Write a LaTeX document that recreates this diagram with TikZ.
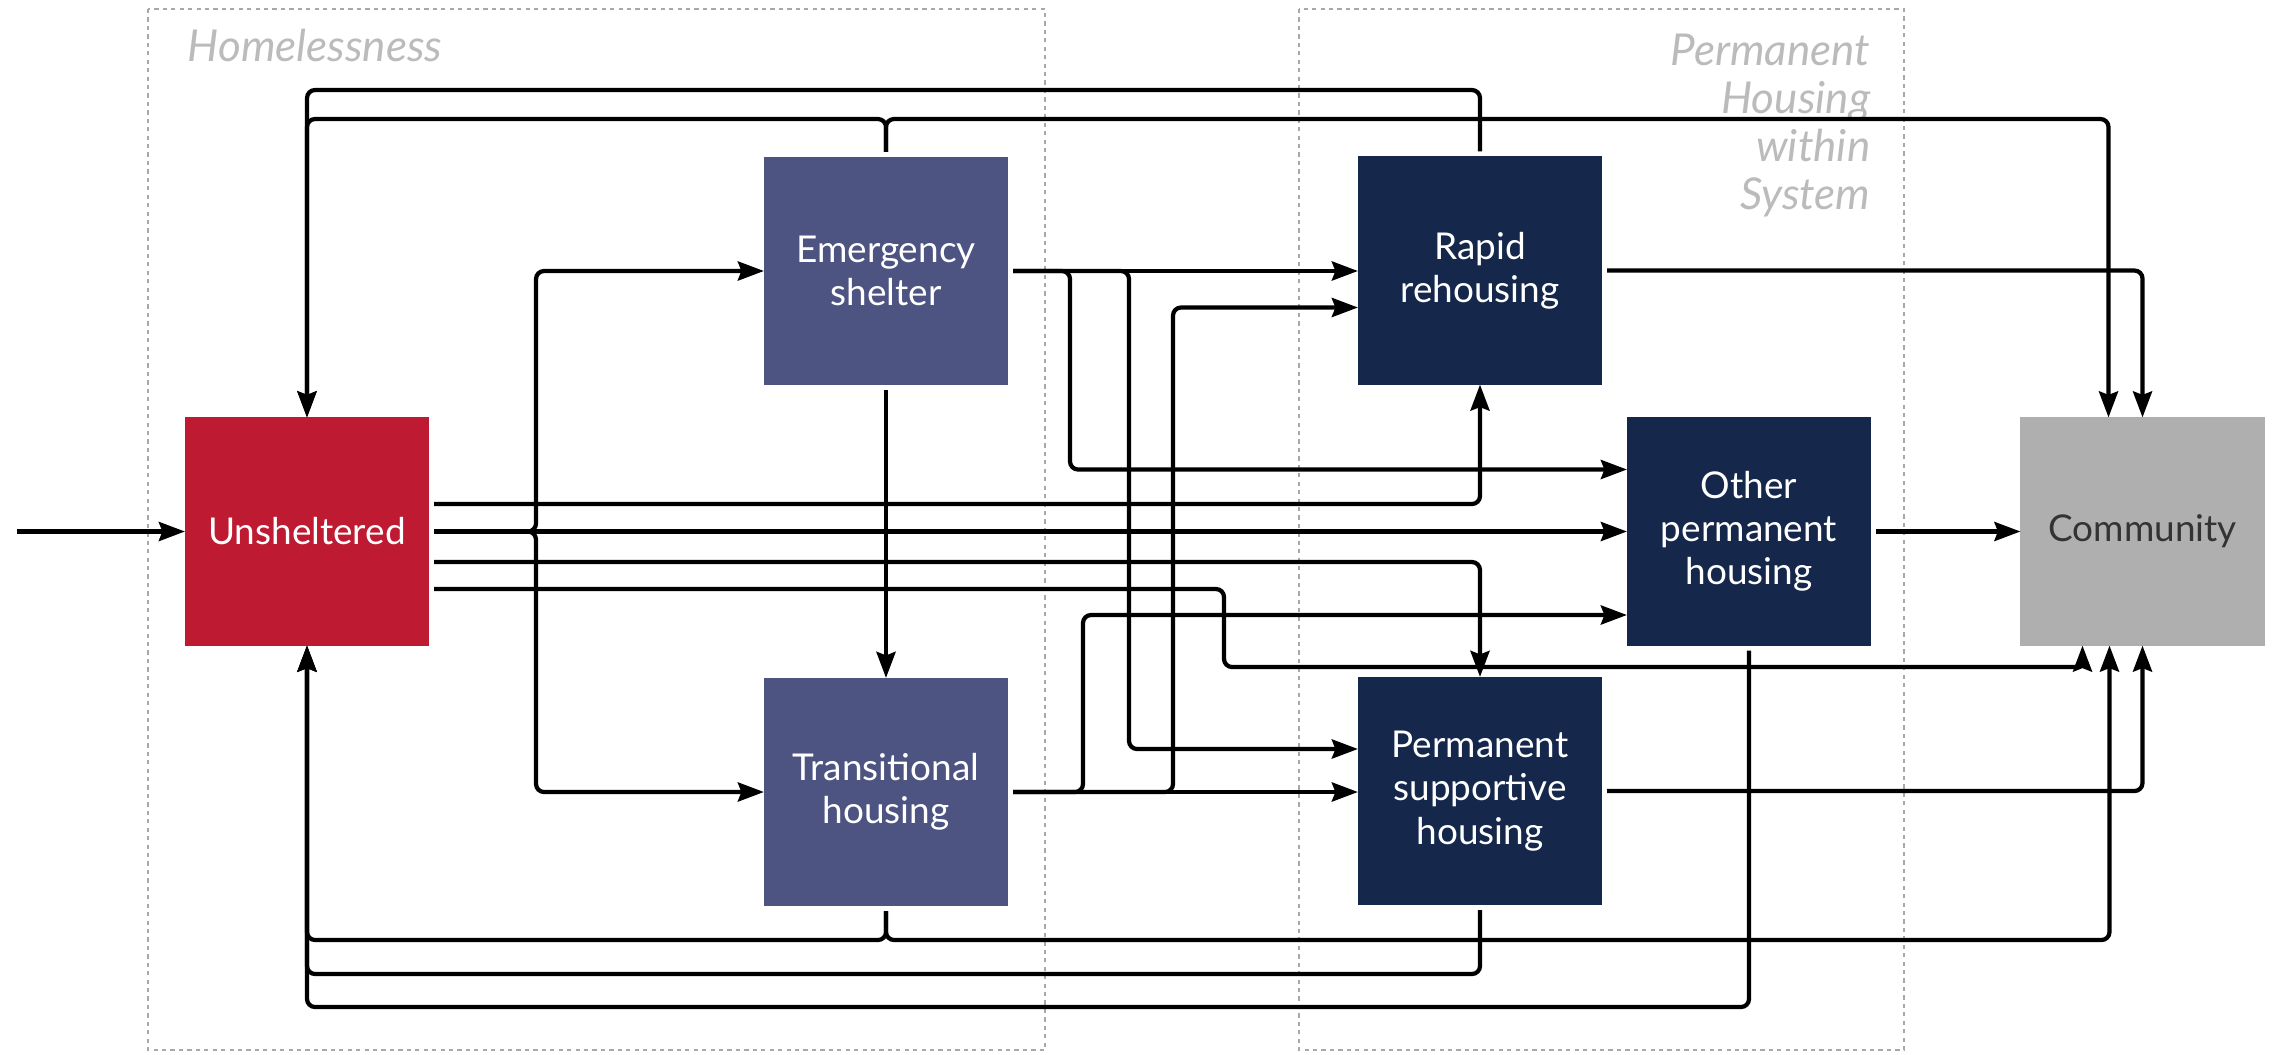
\documentclass[tikz,border=0pt]{standalone}
\usepackage{fontspec}
\setmainfont{Lato}
\usetikzlibrary{arrows.meta,calc}
\definecolor{unsh}{HTML}{BE1A32}
\definecolor{slate}{HTML}{4E5482}
\definecolor{navy}{HTML}{15284C}
\definecolor{commgray}{HTML}{AFAFAF}
\definecolor{commtext}{HTML}{333333}
\definecolor{framegray}{HTML}{A8A8A8}
\definecolor{titlegray}{HTML}{BBBBBB}
\begin{document}
\begin{tikzpicture}[x=0.01cm,y=-0.01cm,
  box/.style={rectangle, minimum width=2.44cm, minimum height=2.28cm, inner sep=0pt, outer sep=0pt, align=center, text=white, font=\fontsize{10.5}{12.3}\selectfont},
  conn/.style={line width=1.2pt, rounded corners=0.08cm, shorten <=0.05cm},
  arr/.style={conn, -{Stealth[length=0.26cm,width=0.19cm,inset=0.035cm]}},
  region/.style={draw=framegray, line width=0.6pt, dash pattern=on 1.2pt off 1.2pt},
  title/.style={text=titlegray, font=\fontsize{12.5}{13.7}\selectfont\itshape, inner sep=0pt}]

\useasboundingbox (0,0) rectangle (2272,1054);
\draw[region] (148,9) rectangle (1045,1050);
\draw[region] (1299,9) rectangle (1904,1050);
\node[title, anchor=base west] (thl) at (187,61) {Homelessness};
\node[title, anchor=north east, align=right] (tph) at (1871,33) {Permanent\\Housing\\within\\System};

\node[box, fill=unsh] (U) at (307,531.5) {Unsheltered};
\node[box, fill=slate] (ES) at (886,271) {Emergency\\shelter};
\node[box, fill=slate] (TH) at (886,792) {Transitional\\housing};
\node[box, fill=navy] (RR) at (1480,270.5) {Rapid\\rehousing};
\node[box, fill=navy] (OPH) at (1749,531.5) {Other\\permanent\\housing};
\node[box, fill=navy] (PSH) at (1480,791) {Permanent\\supportive\\housing};
\node[box, fill=commgray, text=commtext] (C) at (2142.5,531.5) {Community};

\coordinate (src) at (12,531.5);
\coordinate (jU) at (536,531.5);
\coordinate (ctES) at ($(C.north)+(-34,0)$);
\coordinate (cbU) at ($(C.south)+(-60,0)$);
\coordinate (cbTH) at ($(C.south)+(-33,0)$);

\draw[arr] (src) -- (U.west);
\draw[arr] (RR.north) |- (U.north |- 0,90) -- (U.north);
\draw[arr] (ES.north) |- (U.north |- 0,119) -- (U.north);
\draw[arr] (ES.north) |- (ctES |- 0,119) -- (ctES);
\draw[arr] (RR.east) -| (C.north);
\draw[arr] (ES.south) -- (TH.north);
\draw[arr] (U.east) -- (jU) |- (ES.west);
\draw[arr] (U.east) -- (jU) |- (TH.west);
\draw[arr] (U.east) -- (OPH.west);
\draw[arr] (U.east |- 0,504) -| (RR.south);
\draw[arr] (U.east |- 0,562) -| (PSH.north);
\draw[arr] (U.east |- 0,589) -| (1224,667) -| (cbU);
\draw[arr] (ES.east) -- (ES.east -| RR.west);
\draw[arr] (ES.east) -- (ES.east -| 1070,0) |- ($(OPH.west)+(0,-62)$);
\draw[arr] (ES.east) -- (ES.east -| 1129,0) |- ($(PSH.west)+(0,-42)$);
\draw[arr] (TH.east) -- (TH.east -| 1173,0) |- ($(RR.west)+(0,37)$);
\draw[arr] (TH.east) -- (TH.east -| 1083,0) |- ($(OPH.west)+(0,83.5)$);
\draw[arr] (TH.east) -- (TH.east -| PSH.west);
\draw[arr] (TH.south) |- (U.south |- 0,940) -- (U.south);
\draw[arr] (TH.south) |- (cbTH |- 0,940) -- (cbTH);
\draw[arr] (PSH.south) |- (U.south |- 0,974) -- (U.south);
\draw[arr] (OPH.south) |- (U.south |- 0,1007) -- (U.south);
\draw[arr] (PSH.east) -| (C.south);
\draw[arr] (OPH.east) -- (C.west);
\end{tikzpicture}
\end{document}
